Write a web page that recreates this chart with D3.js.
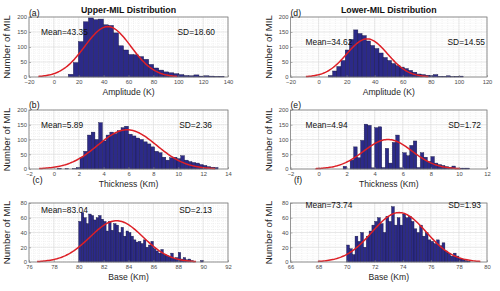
<!DOCTYPE html>
<html>
<head>
<meta charset="utf-8">
<script src="https://cdn.jsdelivr.net/npm/d3@7"></script>
<style>
body { margin: 0; background: #fff; }
text { font-family: "Liberation Sans", Arial, sans-serif; }
</style>
</head>
<body>
<svg width="500" height="291"></svg>
<script>
// ---- data ----
// (a) Upper-MIL amplitude
var ampUpperStart = 11.6, ampUpperWidth = 4.04;
var ampUpperCounts = [9, 48, 118, 184, 197, 191, 193, 174, 172, 147, 104, 90, 75, 74, 68, 59, 42, 30, 23, 17, 14, 11, 8, 5, 4, 7, 3, 4, 3, 2, 2];
// (d) Lower-MIL amplitude
var ampLowerStart = 7, ampLowerWidth = 3;
var ampLowerCounts = [5, 20, 35, 55, 90, 125, 157, 145, 138, 120, 105, 95, 80, 65, 55, 45, 38, 33, 28, 22, 16, 10, 8, 6, 5, 8, 2, 2, 4, 1, 2, 3];
// (b) Upper-MIL thickness
var thkUpperStart = 0.3, thkUpperWidth = 0.3;
var thkUpperCounts = [2, 0, 1, 0, 1, 5, 40, 60, 115, 125, 100, 157, 95, 115, 125, 120, 130, 140, 145, 118, 112, 105, 100, 92, 85, 75, 60, 55, 40, 30, 38, 40, 35, 45, 30, 25, 22, 20, 15, 12, 8, 6, 5];
// (e) Lower-MIL thickness
var thkLowerStart = 1.75, thkLowerWidth = 0.25;
var thkLowerCounts = [9, 0, 30, 75, 38, 97, 152, 148, 4, 140, 143, 5, 70, 20, 90, 115, 4, 55, 45, 80, 95, 5, 55, 40, 25, 42, 20, 15, 12, 8, 5, 10, 3, 3, 3, 3];
// (c) Upper-MIL base
var baseUpperStart = 80, baseUpperWidth = 0.2;
var baseUpperCounts = [55, 67, 60, 52, 65, 63, 57, 60, 63, 58, 55, 42, 55, 43, 52, 50, 40, 47, 35, 42, 40, 35, 30, 27, 28, 25, 30, 20, 23, 28, 18, 15, 12, 17, 10, 9, 7, 12, 5, 6, 13, 4, 6, 3, 4, 2, 1, 0, 0, 2];
// (f) Lower-MIL base
var baseLowerStart = 70, baseLowerWidth = 0.2;
var baseLowerCounts = [23, 18, 10, 35, 28, 40, 20, 35, 42, 50, 55, 60, 52, 40, 62, 55, 75, 50, 60, 50, 65, 60, 62, 55, 45, 40, 50, 35, 40, 30, 28, 25, 30, 22, 26, 15, 12, 8, 12, 8, 5, 4, 2, 1];

// fit statistics printed on the panels, and fitted peak heights
var fitMeans = [43.35, 5.89, 83.04, 34.62, 4.94, 73.74];
var fitSDs   = [18.60, 2.36, 2.13, 14.55, 1.72, 1.93];
var fitPeaks = [168, 133, 56, 127, 100, 67];

var panelLetters = ["(a)", "(b)", "(c)", "(d)", "(e)", "(f)"];
var columnTitles = ["Upper-MIL Distribution", "Lower-MIL Distribution"];
var xLabels = ["Amplitude (K)", "Thickness (Km)", "Base  (Km)"];
var xDomains = [[-20, 140], [-2, 14], [76, 92], [-20, 120], [-2, 12], [66, 80]];
var yDomains = [[0, 200], [0, 200], [0, 80], [0, 200], [0, 200], [0, 80]];

var hists = [
  [ampUpperStart, ampUpperWidth, ampUpperCounts],
  [thkUpperStart, thkUpperWidth, thkUpperCounts],
  [baseUpperStart, baseUpperWidth, baseUpperCounts],
  [ampLowerStart, ampLowerWidth, ampLowerCounts],
  [thkLowerStart, thkLowerWidth, thkLowerCounts],
  [baseLowerStart, baseLowerWidth, baseLowerCounts]
];

// ---- layout ----
var svg = d3.select("svg");
var cols = [[29, 228], [290.5, 487]];
var rows = [[17, 77], [110, 169], [203, 262]];

for (var i = 0; i < 6; i++) drawPanel(i);

function drawPanel(i) {
  var c = Math.floor(i / 3), r = i % 3;
  var x0 = cols[c][0], x1 = cols[c][1], y0 = rows[r][0], y1 = rows[r][1];
  var x = d3.scaleLinear().domain(xDomains[i]).range([x0, x1]);
  var y = d3.scaleLinear().domain(yDomains[i]).range([y1, y0]);
  var g = svg.append("g");

  var xt = x.ticks(8), yt = y.ticks(4);
  var xStep = xt[1] - xt[0], yStep = yt[1] - yt[0];
  var xMinor = d3.range(xDomains[i][0], xDomains[i][1] + 1e-9, xStep / 5);
  var yMinor = d3.range(yDomains[i][0], yDomains[i][1] + 1e-9, yStep / 5);

  // minor grid
  g.append("g").selectAll("line").data(xMinor).enter().append("line")
    .attr("x1", d => x(d)).attr("x2", d => x(d)).attr("y1", y0).attr("y2", y1)
    .attr("stroke", "#e4e4e4").attr("stroke-width", 0.5).attr("stroke-dasharray", "1,1");
  g.append("g").selectAll("line").data(yMinor).enter().append("line")
    .attr("y1", d => y(d)).attr("y2", d => y(d)).attr("x1", x0).attr("x2", x1)
    .attr("stroke", "#e4e4e4").attr("stroke-width", 0.5).attr("stroke-dasharray", "1,1");
  // major grid
  g.append("g").selectAll("line").data(xt).enter().append("line")
    .attr("x1", d => x(d)).attr("x2", d => x(d)).attr("y1", y0).attr("y2", y1)
    .attr("stroke", "#dcdcdc").attr("stroke-width", 0.6);
  g.append("g").selectAll("line").data(yt).enter().append("line")
    .attr("y1", d => y(d)).attr("y2", d => y(d)).attr("x1", x0).attr("x2", x1)
    .attr("stroke", "#dcdcdc").attr("stroke-width", 0.6);

  // bars
  var h = hists[i], start = h[0], w = h[1];
  g.append("g").selectAll("rect").data(h[2]).enter().append("rect")
    .attr("x", (d, k) => x(start + k * w))
    .attr("width", (d, k) => x(start + (k + 1) * w) - x(start + k * w))
    .attr("y", d => y(d))
    .attr("height", d => y1 - y(d))
    .attr("fill", "#2c2a88")
    .attr("stroke", "#15153f")
    .attr("stroke-width", 0.4);

  // normal fit curve, drawn over mean +/- 3 SD
  var m = fitMeans[i], s = fitSDs[i], pk = fitPeaks[i];
  var xs = d3.range(m - 3 * s, m + 3 * s + 1e-9, s / 20);
  var line = d3.line()
    .x(d => x(d))
    .y(d => y(pk * Math.exp(-0.5 * Math.pow((d - m) / s, 2))));
  g.append("path").datum(xs).attr("d", line)
    .attr("fill", "none").attr("stroke", "#dd1f26").attr("stroke-width", 1.5);

  // box
  g.append("rect").attr("x", x0).attr("y", y0).attr("width", x1 - x0).attr("height", y1 - y0)
    .attr("fill", "none").attr("stroke", "#808080").attr("stroke-width", 0.8);

  // axes (ticks inward, MATLAB style)
  var xa = g.append("g").attr("transform", "translate(0," + y1 + ")")
    .call(d3.axisBottom(x).tickValues(xt).tickSize(-2).tickPadding(3));
  var ya = g.append("g").attr("transform", "translate(" + x0 + ",0)")
    .call(d3.axisLeft(y).tickValues(yt).tickSize(-2).tickPadding(2));
  [xa, ya].forEach(function (a) {
    a.select(".domain").remove();
    a.selectAll("line").attr("stroke", "#808080").attr("stroke-width", 0.6);
    a.selectAll("text").attr("font-size", 5.8).attr("fill", "#4a4a4a")
      .style("font-family", "'Liberation Sans', Arial, sans-serif");
  });

  // labels
  var cx = (x0 + x1) / 2;
  g.append("text").attr("x", cx).attr("y", y1 + 17.5).attr("text-anchor", "middle")
    .attr("font-size", 8.6).attr("fill", "#262626").text(xLabels[r]);
  g.append("text")
    .attr("transform", "translate(" + (x0 - 19) + "," + ((y0 + y1) / 2) + ") rotate(-90)")
    .attr("text-anchor", "middle").attr("font-size", 9.6).attr("fill", "#262626")
    .text("Number of MIL");

  var meanX = c === 0 ? x0 + 12 : x0 + 15;
  var meanY = [[35, 128, 212.5], [45, 128, 208]][c][r];
  var sdRight = [[215, 212, 212], [485, 481, 481]][c][r];
  g.append("text").attr("x", meanX).attr("y", meanY).attr("font-size", 8.4).attr("fill", "#111")
    .text("Mean=" + m.toFixed(2));
  g.append("text").attr("x", sdRight).attr("y", meanY).attr("text-anchor", "end")
    .attr("font-size", 8.4).attr("fill", "#111").text("SD=" + s.toFixed(2));

  // panel letter (bottom row letters sit just right of the "-2" tick label)
  var letterY = [15.5, 108, 182.5][r];
  g.append("text").attr("x", x0 + (r === 2 ? 3.5 : 0)).attr("y", letterY)
    .attr("font-size", 8.6).attr("fill", "#111").text(panelLetters[i]);

  if (r === 0) {
    g.append("text").attr("x", cx).attr("y", 13).attr("text-anchor", "middle")
      .attr("font-size", 8.8).attr("font-weight", "bold").attr("fill", "#111")
      .text(columnTitles[c]);
  }
}
</script>
</body>
</html>
